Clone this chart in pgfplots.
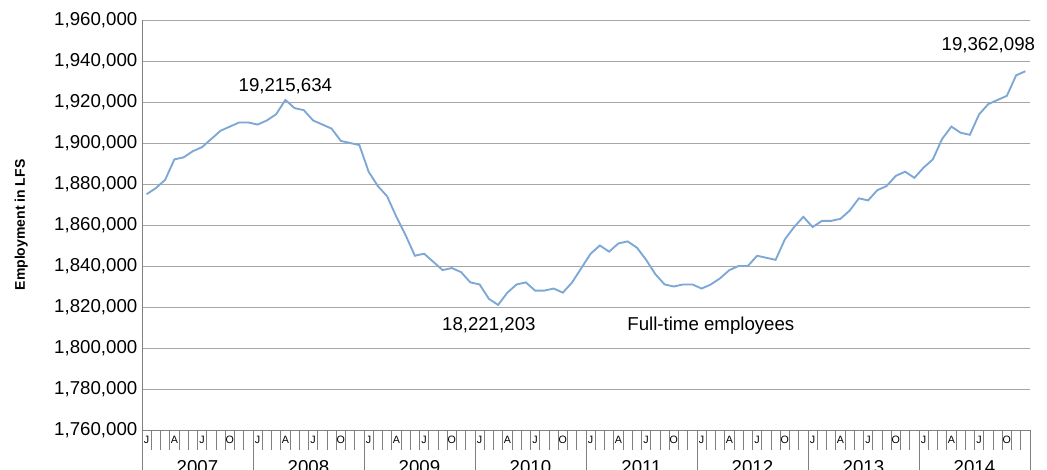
\documentclass[border=0pt]{standalone}
\usepackage{pgfplots}
\pgfplotsset{compat=1.18}
\usepackage{fontspec}
\setmainfont{Liberation Sans}
\begin{document}
\begin{tikzpicture}
\useasboundingbox (-106.5pt,-30pt) rectangle (678.75pt,322.5pt);
\begin{axis}[at={(0,0)},anchor=south west,scale only axis,width=666pt,height=307.5pt,
xmin=-0.5,xmax=95.5,ymin=1760000,ymax=1960000,
ytick={1760000,1780000,...,1960000},
scaled y ticks=false,
yticklabel style={/pgf/number format/fixed,/pgf/number format/1000 sep={,},/pgf/number format/assume math mode=true},
ymajorgrids,grid style={gray!70},
xtick=\empty,axis line style={gray},
axis x line*=bottom, axis y line*=left,
ytick style={draw=none},
ylabel={\textbf{Employment in LFS}},ylabel style={font=\fontsize{10.5}{12}\selectfont,yshift=13pt},
tick label style={font=\fontsize{14}{16}\selectfont},clip=false]
\addplot[draw={rgb,255:red,125;green,167;blue,213},line width=1.4pt,y filter/.expression={y*1000}] coordinates {
(0,1875)(1,1878)(2,1882)(3,1892)(4,1893)(5,1896)(6,1898)(7,1902)(8,1906)(9,1908)(10,1910)(11,1910)
(12,1909)(13,1911)(14,1914)(15,1921)(16,1917)(17,1916)(18,1911)(19,1909)(20,1907)(21,1901)(22,1900)(23,1899)
(24,1886)(25,1879)(26,1874)(27,1864)(28,1855)(29,1845)(30,1846)(31,1842)(32,1838)(33,1839)(34,1837)(35,1832)
(36,1831)(37,1824)(38,1821)(39,1827)(40,1831)(41,1832)(42,1828)(43,1828)(44,1829)(45,1827)(46,1832)(47,1839)
(48,1846)(49,1850)(50,1847)(51,1851)(52,1852)(53,1849)(54,1843)(55,1836)(56,1831)(57,1830)(58,1831)(59,1831)
(60,1829)(61,1831)(62,1834)(63,1838)(64,1840)(65,1840)(66,1845)(67,1844)(68,1843)(69,1853)(70,1859)(71,1864)
(72,1859)(73,1862)(74,1862)(75,1863)(76,1867)(77,1873)(78,1872)(79,1877)(80,1879)(81,1884)(82,1886)(83,1883)
(84,1888)(85,1892)(86,1902)(87,1908)(88,1905)(89,1904)(90,1914)(91,1919)(92,1921)(93,1923)(94,1933)(95,1935)
};
\pgfplotsinvokeforeach{0,...,96}{
 \draw[gray] (axis cs:#1-0.5,1760000) -- (axis cs:#1-0.5,1750000);
}
\pgfplotsinvokeforeach{0,...,8}{
 \draw[gray] (axis cs:#1*12-0.5,1760000) -- (axis cs:#1*12-0.5,1740000);
}
\pgfplotsinvokeforeach{0,...,7}{
 \node[font=\footnotesize] at (axis cs:#1*12,1755000) {J};
 \node[font=\footnotesize] at (axis cs:#1*12+3,1755000) {A};
 \node[font=\footnotesize] at (axis cs:#1*12+6,1755000) {J};
 \node[font=\footnotesize] at (axis cs:#1*12+9,1755000) {O};
}
\pgfplotsinvokeforeach{0,...,7}{
 \node[font=\fontsize{14}{16}\selectfont] at (axis cs:#1*12+5.5,1742000) {\pgfmathparse{int(2007+#1)}\pgfmathresult};
}
\begin{scope}[every node/.style={font=\fontsize{14}{16}\selectfont}]
\node at (axis cs:15,1927500) {19,215,634};
\node at (axis cs:91,1947500) {19,362,098};
\node at (axis cs:37,1811000) {18,221,203};
\node at (axis cs:61,1811000) {Full-time employees};
\end{scope}
\end{axis}
\end{tikzpicture}
\end{document}
